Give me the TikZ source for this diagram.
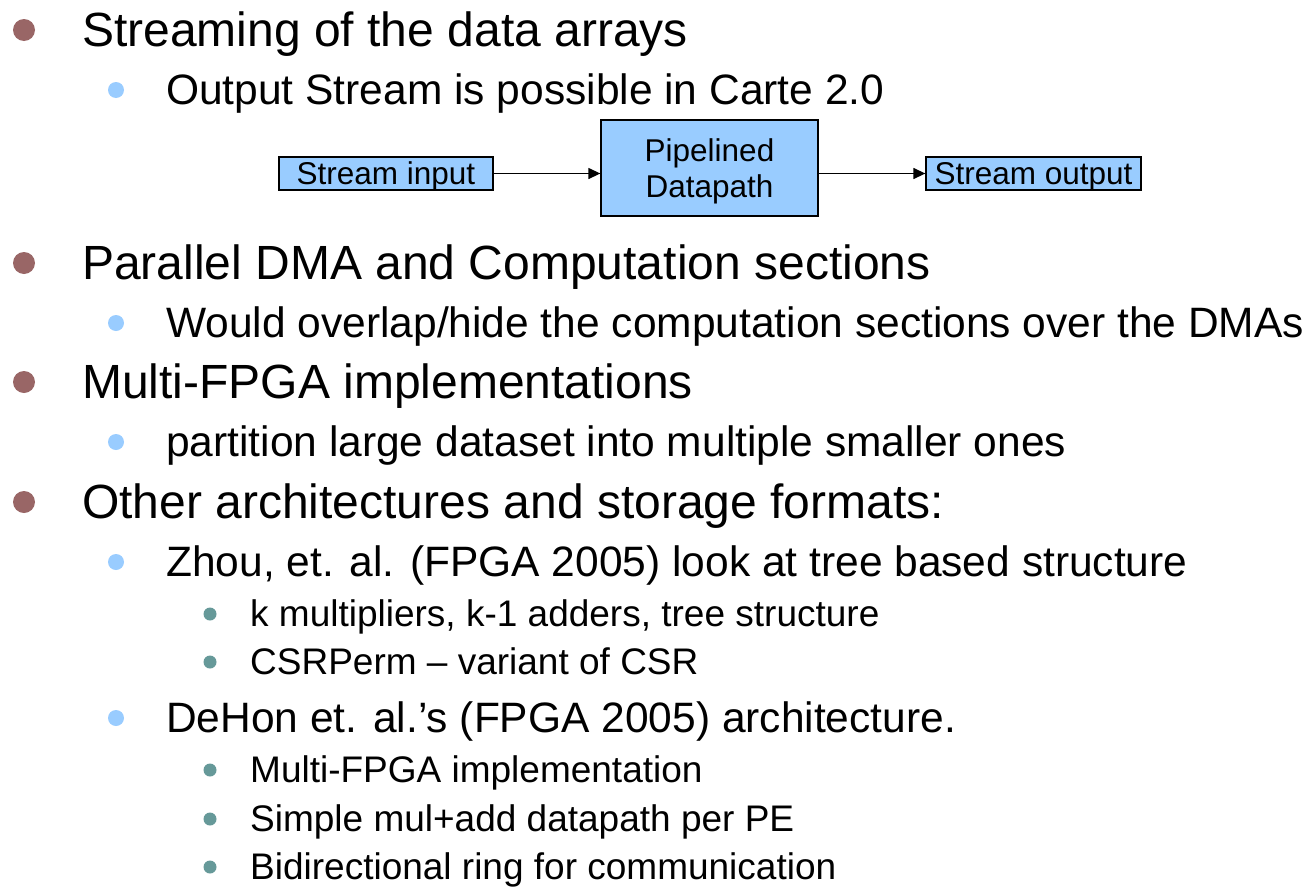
\documentclass[tikz,border=0pt]{standalone}
\usepackage{fontspec}
\setmainfont{Liberation Sans}
\usetikzlibrary{arrows.meta}
\definecolor{dotone}{HTML}{996666}
\definecolor{dottwo}{HTML}{99CCFF}
\definecolor{dotthree}{HTML}{669999}
\definecolor{boxfill}{HTML}{99CCFF}
\begin{document}
\begin{tikzpicture}[x=1pt,y=-1pt,
  lvone/.style={anchor=base west,inner sep=0pt,font=\fontsize{48}{52}\selectfont},
  lvtwo/.style={anchor=base west,inner sep=0pt,font=\fontsize{42.5}{46}\selectfont},
  lvthree/.style={anchor=base west,inner sep=0pt,font=\fontsize{37}{40}\selectfont},
  boxed/.style={draw=black,line width=1.3pt,fill=boxfill,inner sep=0pt,align=center,font=\fontsize{31.5}{36}\selectfont},
  boxtext/.style={inner sep=0pt,align=center,font=\fontsize{31.5}{36}\selectfont},
  flow/.style={-{Triangle[length=12pt,width=11pt]},line width=1.3pt}]
\useasboundingbox (0,0) rectangle (1311,886);
\fill[white] (0,0) rectangle (1311,886);
% first level
\foreach \yy/\nm/\tx in {46/a/{Streaming of the data arrays},279/b/{Parallel DMA and Computation sections},398/c/{Multi-FPGA implementations},518/d/{Other architectures and storage formats:}}{
  \fill[dotone] (24,\yy-16) circle (11);
  \node[lvone] (one\nm) at (82,\yy) {\tx};
}
% second level
\foreach \yy/\nm/\tx in {104/a/{Output Stream is possible in Carte 2.0},337/b/{Would overlap/hide the computation sections over the DMAs},456/c/{partition large dataset into multiple smaller ones},576/d/{Zhou, et. al. (FPGA 2005) look at tree based structure},732/e/{DeHon et. al.’s (FPGA 2005) architecture.}}{
  \fill[dottwo] (116,\yy-14) circle (8);
  \node[lvtwo] (two\nm) at (166,\yy) {\tx};
}
% third level
\foreach \yy/\nm/\tx in {626/a/{k multipliers, k-1 adders, tree structure},674/b/{CSRPerm – variant of CSR},782/c/{Multi-FPGA implementation},831/d/{Simple mul+add datapath per PE},879/e/{Bidirectional ring for communication}}{
  \fill[dotthree] (210,\yy-12) circle (6.5);
  \node[lvthree] (three\nm) at (250,\yy) {\tx};
}
% streaming datapath boxes, labels set slightly low as in the slide
\node[boxed,minimum width=214,minimum height=33] (sin) at (386,173.5) {};
\node[boxed,minimum width=217,minimum height=96] (pipe) at (709.5,168) {};
\node[boxed,minimum width=215,minimum height=33] (sout) at (1033.5,173.5) {};
\node[boxtext] (sinlabel) at ([yshift=-3pt]sin.center) {Stream input};
\node[boxtext] (pipelabel) at ([yshift=-3pt]pipe.center) {Pipelined\\Datapath};
\node[boxtext] (soutlabel) at ([yshift=-3pt]sout.center) {Stream output};
\draw[flow] (sin.east) -- (pipe.west |- sin.east);
\draw[flow] (pipe.east |- sout.west) -- (sout.west);
\end{tikzpicture}
\end{document}
